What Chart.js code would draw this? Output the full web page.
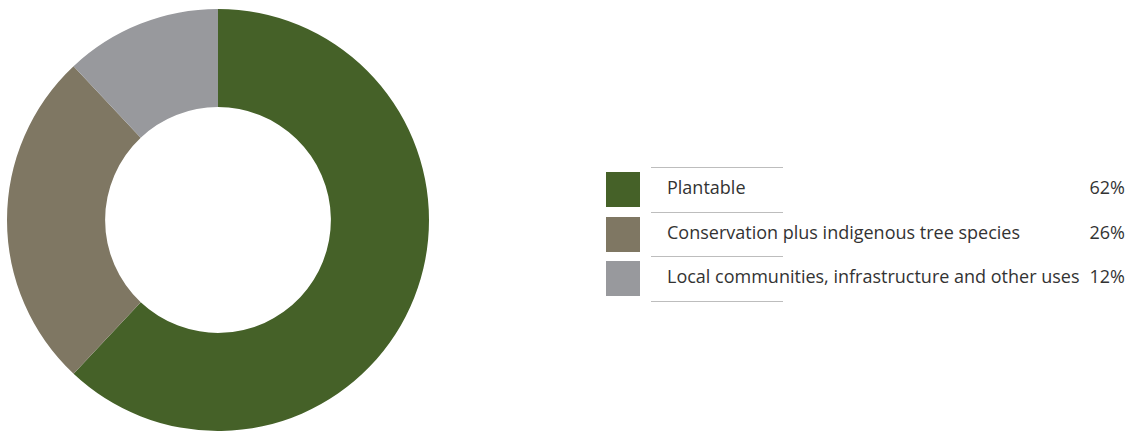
<!DOCTYPE html>
<html>
<head>
<meta charset="utf-8">
<script src="https://cdn.jsdelivr.net/npm/chart.js@4.4.1/dist/chart.umd.min.js"></script>
<style>
  body { margin: 0; background: #fff; width: 1128px; height: 432px; overflow: hidden; position: relative; font-family: "Open Sans", sans-serif; }
  #chartBox { position: absolute; left: 7px; top: 9px; width: 422px; height: 422px; }
  #legend { position: absolute; left: 606px; top: 167px; width: 522px; }
  .row { position: relative; height: 44.7px; }
  .swatch { position: absolute; left: 0; top: 5px; width: 34px; height: 35px; }
  .rule { position: absolute; left: 45px; width: 132px; height: 1px; background: #bdbdbd; }
  .label { position: absolute; left: 61px; top: 8px; font-size: 18px; color: #333; white-space: nowrap; }
  .pct { position: absolute; right: 3px; top: 8px; font-size: 18px; color: #333; }
</style>
</head>
<body>
<div id="chartBox"><canvas id="donut"></canvas></div>
<div id="legend"></div>
<script>
const categories = ['Plantable', 'Conservation plus indigenous tree species', 'Local communities, infrastructure and other uses'];
const shares = [62, 26, 12];
const colours = ['#456128', '#7f7763', '#98999d'];

// legend built from the same arrays
const legend = document.getElementById('legend');
categories.forEach((name, i) => {
  const row = document.createElement('div');
  row.className = 'row';
  row.innerHTML =
    '<div class="rule" style="top:0"></div>' +
    '<div class="swatch" style="background:' + colours[i] + '"></div>' +
    '<div class="label">' + name + '</div>' +
    '<div class="pct">' + shares[i] + '%</div>';
  legend.appendChild(row);
});
const lastRule = document.createElement('div');
lastRule.className = 'rule';
lastRule.style.top = (categories.length * 44.7) + 'px';
legend.appendChild(lastRule);

new Chart(document.getElementById('donut'), {
  type: 'doughnut',
  data: {
    labels: categories,
    datasets: [{
      data: shares,
      backgroundColor: colours,
      borderWidth: 0
    }]
  },
  options: {
    responsive: true,
    maintainAspectRatio: false,
    animation: false,
    cutout: '53.5%',
    layout: { padding: 0 },
    plugins: {
      legend: { display: false },
      tooltip: { enabled: false }
    }
  }
});
</script>
</body>
</html>
